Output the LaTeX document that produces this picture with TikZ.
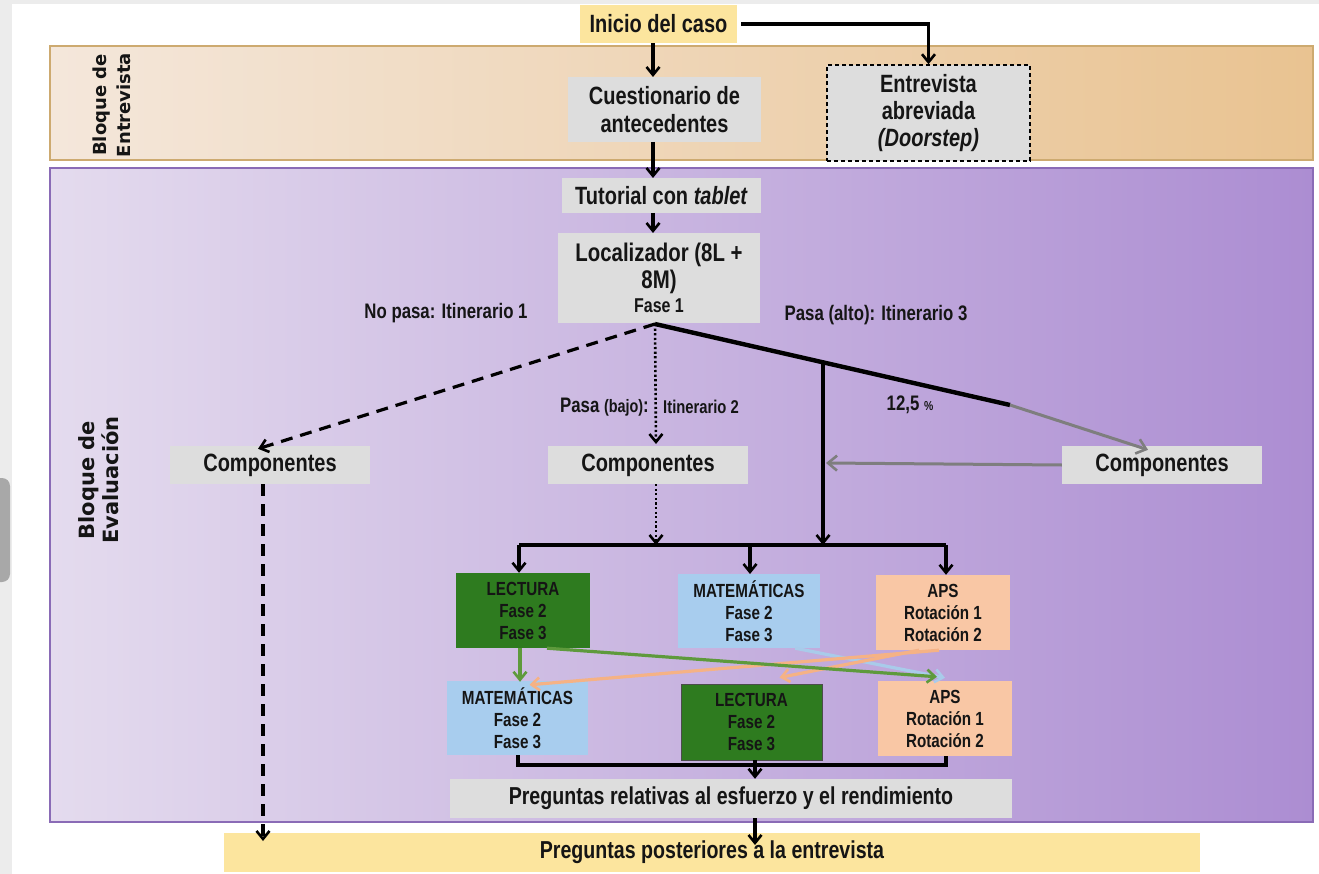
\documentclass[tikz,border=0pt]{standalone}
\usepackage{fontspec}
\setmainfont{Liberation Sans}[FakeStretch=0.8]
\newfontfamily\sidefont{DejaVu Sans}
\usetikzlibrary{arrows.meta,calc}
\definecolor{outergrey}{HTML}{ECECEC}
\definecolor{scrollgrey}{HTML}{A8A8A8}
\definecolor{inicioY}{HTML}{FCE59E}
\definecolor{entL}{HTML}{F4E7DB}
\definecolor{entR}{HTML}{E9C391}
\definecolor{entB}{HTML}{CDAA70}
\definecolor{evaL}{HTML}{E4DBEE}
\definecolor{evaR}{HTML}{AC8DD2}
\definecolor{evaB}{HTML}{8A6BB6}
\definecolor{boxgrey}{HTML}{DDDDDD}
\definecolor{lecG}{HTML}{2E7B1F}
\definecolor{matB}{HTML}{A8CDEE}
\definecolor{apsP}{HTML}{F9C7A5}
\definecolor{arrG}{HTML}{5E9A3C}
\definecolor{arrO}{HTML}{F5B285}
\definecolor{arrB}{HTML}{A9CBEA}
\definecolor{arrGrey}{HTML}{7E7E7E}
\definecolor{ink}{HTML}{151515}
\tikzset{
  every node/.style={inner sep=0pt, align=center, text=ink},
  bigtxt/.style={font=\fontsize{25}{28}\selectfont\bfseries},
  lbltxt/.style={font=\fontsize{21}{24}\selectfont\bfseries},
  smalltxt/.style={font=\fontsize{19}{22}\selectfont\bfseries},
  gbox/.style={fill=boxgrey, bigtxt},
  ybox/.style={fill=inicioY, bigtxt},
  lecbox/.style={fill=lecG, smalltxt, minimum width=134pt, minimum height=75pt},
  matbox/.style={fill=matB, smalltxt, minimum width=142pt, minimum height=74pt},
  apsbox/.style={fill=apsP, smalltxt, minimum width=134pt, minimum height=75pt},
  sidelbl/.style={rotate=90, font=\sidefont\bfseries},
  tipb/.style={-{Straight Barb[length=8pt,width=13pt,line width=2.6pt]}},
  arr/.style={draw=black, line width=3.2pt, tipb},
  dasharr/.style={arr, dash pattern=on 12pt off 8pt},
  dotarr/.style={arr, line width=2.6pt, dash pattern=on 2.2pt off 2.4pt},
  greyarr/.style={draw=arrGrey, line width=3pt, -{Straight Barb[length=9pt,width=15pt,line width=2.6pt]}},
  colarr/.style={line width=3.2pt, -{Straight Barb[length=8pt,width=13pt,line width=2.6pt]}},
}
\begin{document}
\begin{tikzpicture}[x=1pt,y=-1pt]
\useasboundingbox (0,0) rectangle (1319,874);
% frame
\fill[outergrey] (0,0) rectangle (1319,874);
\fill[white] (12,4) rectangle (1319,874);
\fill[scrollgrey, rounded corners=8pt] (-10,478) rectangle (10,582);
% bands
\shade[left color=entL, right color=entR] (50,46) rectangle (1313,160);
\draw[entB, line width=1.2pt] (50,46) rectangle (1313,160);
\shade[left color=evaL, right color=evaR] (50,168) rectangle (1313,822);
\draw[evaB, line width=1.2pt] (50,168) rectangle (1313,822);
% side labels
\node[sidelbl, font=\sidefont\bfseries\fontsize{18}{24}\selectfont] (lblent) at (112,105) {Bloque de\\Entrevista};
\node[sidelbl, font=\sidefont\bfseries\fontsize{21}{24}\selectfont] (lbleva) at (99,480) {Bloque de\\Evaluación};
% top boxes
\node[ybox, minimum width=157pt, minimum height=38pt] (inicio) at (658.5,24) {Inicio del caso};
\node[gbox, minimum width=193pt, minimum height=65pt] (cuest) at (664.5,109.5) {Cuestionario de\\antecedentes};
\node[fill=boxgrey, draw=black, line width=1.5pt, dash pattern=on 4pt off 3pt, bigtxt, font=\fontsize{25}{27}\selectfont\bfseries, minimum width=203pt, minimum height=96pt] (door) at (928.5,113) {Entrevista\\abreviada\\\textit{(Doorstep)}};
\node[gbox, minimum width=199pt, minimum height=35pt] (tut) at (661.5,195.5) {Tutorial con \textit{tablet}};
\node[gbox, minimum width=202pt, minimum height=90pt, font=\fontsize{25.5}{27}\selectfont\bfseries] (loc) at (659,278) {Localizador (8L +\\8M)\\[-3pt]{\fontsize{20}{22}\selectfont Fase 1}};
% components
\node[gbox, minimum width=200pt, minimum height=38pt] (compL) at (270,465) {Componentes};
\node[gbox, minimum width=200pt, minimum height=38pt] (compC) at (648,465) {Componentes};
\node[gbox, minimum width=200pt, minimum height=38pt] (compR) at (1162,465) {Componentes};
% labels
\node[lbltxt] (lblno) at (446,313) {No pasa: Itinerario 1};
\node[lbltxt] (lblalto) at (876,315) {Pasa (alto): Itinerario 3};
\node[lbltxt, anchor=east] (lblbajo1) at (649,407) {Pasa {\fontsize{18}{20}\selectfont (bajo)}:};
\node[lbltxt, anchor=west, font=\fontsize{18.5}{20}\selectfont\bfseries] (lblbajo2) at (663,407) {Itinerario 2};
\node[lbltxt] (lblpct) at (910,405) {12,5 {\fontsize{13}{14}\selectfont \%}};
% subject boxes
\node[lecbox] (lec1) at (523,610.5) {LECTURA\\Fase 2\\Fase 3};
\node[matbox] (mat1) at (749,611) {MATEMÁTICAS\\Fase 2\\Fase 3};
\node[apsbox] (aps1) at (943,612.5) {APS\\Rotación 1\\Rotación 2};
\node[matbox, minimum width=141pt] (mat2) at (517.5,718) {MATEMÁTICAS\\Fase 2\\Fase 3};
\node[lecbox, minimum width=141pt, minimum height=76pt, draw=black!70, line width=1pt] (lec2) at (751.5,722) {LECTURA\\Fase 2\\Fase 3};
\node[apsbox] (aps2) at (945,718.5) {APS\\Rotación 1\\Rotación 2};
% bottom boxes
\node[gbox, minimum width=562pt, minimum height=39pt, font=\fontsize{24.5}{26}\selectfont\bfseries] (pregrel) at (731,798.5) {Preguntas relativas al esfuerzo y el rendimiento};
\node[ybox, minimum width=976pt, minimum height=39pt, font=\fontsize{24.5}{26}\selectfont\bfseries] (pregpost) at (712,852.5) {Preguntas posteriores a la entrevista};
% coordinates
\coordinate (P) at (655,324);
\coordinate (bend) at (1010,405);
\coordinate (vtop) at (823,362);
\coordinate (barL) at (519,545);
\coordinate (barR) at (946,545);
\coordinate (bbarL) at (518,765);
\coordinate (bbarR) at (946,765);
% connectors top
\draw[arr] ([xshift=4pt]inicio.east) -| (door.north);
\draw[arr] (inicio.south -| 653,0) -- (653,77);
\draw[arr] (653,142) -- (653,178);
\draw[arr] (653,213) -- (653,233);
% branches
\draw[dasharr] (P) -- ([xshift=-12pt,yshift=-3pt]compL.north);
\draw[dotarr] (P) -- (656,444);
\draw[line width=4.4pt] (P) -- (bend);
\draw[greyarr] (bend) -- ([xshift=-14pt,yshift=-4pt]compR.north);
\draw[arr] (vtop) -- (823,545);
\draw[greyarr] (compR.west) -- (826,463);
\draw[dotarr] (656,484) -- (656,545);
\draw[dasharr] (263,484) -- (263,841);
% distribution bar
\draw[line width=3.2pt] (barL) -- (barR);
\draw[arr] (barL) -- (lec1.north -| barL);
\draw[arr] (750,545) -- (750,574);
\draw[arr] (barR) -- (aps1.north -| barR);
% crossing arrows
\draw[colarr, draw=arrB] ([xshift=-25pt]mat1.south east) -- ([xshift=0pt,yshift=3pt]aps2.north);
\draw[colarr, draw=arrO] ([xshift=-4pt]aps1.south) -- ([xshift=12pt,yshift=-4pt]mat2.north);
\draw[colarr, draw=arrO] ([xshift=-24pt]aps1.south) -- ([xshift=28pt,yshift=6pt]lec2.north);
\draw[colarr, draw=arrG] ([xshift=24pt]lec1.south) -- ([xshift=-8pt,yshift=4pt]aps2.north);
\draw[colarr, draw=arrG] ([xshift=-3pt]lec1.south) -- ([xshift=2.5pt,yshift=-1pt]mat2.north);
% collecting bar
\draw[line width=3.2pt] (bbarL |- mat2.south) -- (bbarL) -- (bbarR) -- (bbarR |- aps2.south);
\draw[arr] (755,760) -- (pregrel.north -| 755,0);
\draw[arr] (pregrel.south -| 755,0) -- (755,845);
\end{tikzpicture}
\end{document}
